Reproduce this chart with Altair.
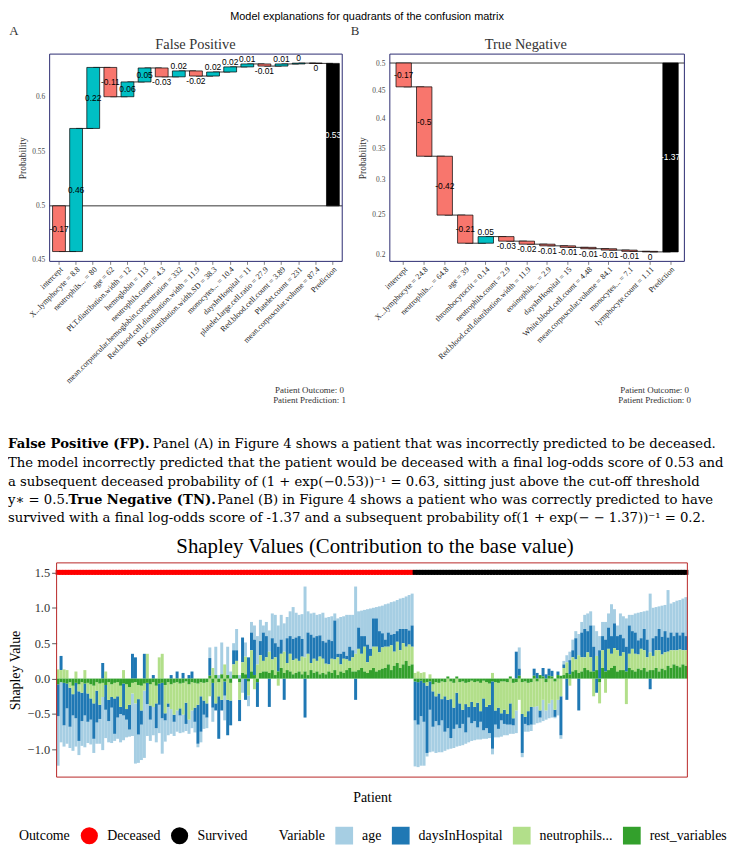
import altair as alt
import numpy as np
import pandas as pd

W, H = 729, 840
SERIF = "Liberation Serif"
SANS = "Liberation Sans"
PSERIF = "DejaVu Serif"
TEAL, SALMON, NAVY, BORDER_RED = "#00BFC4", "#F8766D", "#2b2b70", "#b82525"

# ---------------------------------------------------------------- texts
main_title = "Model explanations for quadrants of the confusion matrix"
panel_tags = ["A", "B"]
panel_titles = ["False Positive", "True Negative"]
fp_caption = ["Patient Outcome:  0", "Patient Prediction:  1"]
tn_caption = ["Patient Outcome:  0", "Patient Prediction:  0"]

# ---------------------------------------------------------------- panel A (False Positive)
fp_features = ["intercept", "X...lymphocyte = 8.8", "neutrophils... = 80", "age = 62",
               "PLT.distribution.width = 12", "hemoglobin = 113", "neutrophils.count = 4.3",
               "mean.corpuscular.hemoglobin.concentration = 332",
               "Red.blood.cell.distribution.width = 11.9", "RBC.distribution.width.SD = 38.3",
               "monocytes... = 10.4", "daysInHospital = 11", "platelet.large.cell.ratio = 27.9",
               "Red.blood.cell.count = 3.89", "Platelet.count = 231",
               "mean.corpuscular.volume = 87.4", "Prediction"]
fp_contrib = [-0.17, 0.458, 0.227, -0.109, 0.055, 0.052, -0.033, 0.022, -0.019, 0.015,
              0.019, 0.011, -0.008, 0.008, 0.003, -0.001]
fp_labels = ["-0.17", "0.46", "0.22", "-0.11", "0.06", "0.05", "-0.03", "0.02", "-0.02",
             "0.02", "0.02", "0.01", "-0.01", "0.01", "0", "0"]
fp_pred, fp_pred_label = 0.53, "0.53"
fp_ticks = [0.45, 0.5, 0.55, 0.6]

# ---------------------------------------------------------------- panel B (True Negative)
tn_features = ["intercept", "X...lymphocyte = 24.8", "neutrophils... = 64.8", "age = 39",
               "thrombocytocrit = 0.14", "neutrophils.count = 2.9",
               "Red.blood.cell.distribution.width = 11.9", "eosinophils... = 2.9",
               "daysInHospital = 15", "White.blood.cell.count = 4.48",
               "mean.corpuscular.volume = 84.1", "monocytes... = 7.1",
               "lymphocyte.count = 1.11", "Prediction"]
tn_contrib = [-0.173, -0.503, -0.427, -0.204, 0.048, -0.033, -0.022, -0.012, -0.011,
              -0.010, -0.010, -0.009, -0.004]
tn_labels = ["-0.17", "-0.5", "-0.42", "-0.21", "0.05", "-0.03", "-0.02", "-0.01", "-0.01",
             "-0.01", "-0.01", "-0.01", "0"]
tn_pred, tn_pred_label = -1.37, "-1.37"
tn_ticks = [0.2, 0.25, 0.3, 0.35, 0.4, 0.45, 0.5]

# ---------------------------------------------------------------- paragraph
para_segments = [
    "False Positive (FP).",
    "Panel (A) in Figure 4 shows a patient that was incorrectly predicted to be deceased.",
    "The model incorrectly predicted that the patient would be deceased with a final "
    "log-odds score of 0.53 and",
    "a subsequent deceased probability of (1 + exp(\u22120.53))\u207b\u00b9 = 0.63, sitting "
    "just above the cut-off threshold",
    "y\u2217 = 0.5.",
    "True Negative (TN).",
    "Panel (B) in Figure 4 shows a patient who was correctly predicted to have",
    "survived with a final log-odds score of -1.37 and a subsequent probability "
    "of(1 + exp(\u2212 \u2212 1.37))\u207b\u00b9 = 0.2.",
]
# (x, y, weight) for each segment
para_layout = [
    (0, 436, "bold"), (146, 436, "normal"),
    (0, 455, "normal"),
    (0, 474, "normal"),
    (0, 493, "normal"), (61, 493, "bold"), (211, 493, "normal"),
    (0, 511, "normal"),
]

# ---------------------------------------------------------------- Shapley values
shap_title = "Shapley Values (Contribution to the base value)"
variables = ["age", "daysInHospital", "neutrophils...", "rest_variables"]
var_colors = ["#a6cee3", "#1f78b4", "#b2df8a", "#33a02c"]
outcomes = ["Deceased", "Survived"]
outcome_colors = ["#ff0000", "#000000"]
shap_ticks = [-1.0, -0.5, 0.0, 0.5, 1.0, 1.5]

dec_rest = [
    -0.08, -0.05, -0.06, -0.07, -0.05, -0.10, -0.06, -0.08, -0.05, -0.07,
    -0.06, -0.08, -0.10, -0.05, -0.07, -0.06, -0.09, -0.05, -0.08, -0.06,
    -0.05, -0.10, -0.07, -0.08, -0.12, -0.06, -0.05, -0.09, -0.10, -0.07,
    -0.06, -0.08, -0.05, -0.10, -0.07, -0.06, -0.09, -0.05, -0.08, -0.06,
    -0.05, -0.07, -0.06, -0.04, -0.08, -0.05, -0.06, -0.07, -0.05, -0.06,
    -0.05, 0.04, -0.06, 0.05, -0.05, 0.06, -0.04, 0.05, -0.06, 0.05,
    0.05, -0.05, 0.08, 0.06, -0.04, 0.10, 0.05, -0.05, 0.08, 0.10,
    0.10, 0.08, 0.12, 0.05, 0.10, 0.15, 0.08, 0.12, 0.10, 0.06,
    0.08, 0.10, 0.06, 0.10, 0.05, 0.12, 0.08, 0.10, 0.06, 0.08,
    0.06, 0.10, 0.08, 0.12, 0.05, 0.10, 0.08, 0.12, 0.15, 0.10,
    0.10, 0.12, 0.15, 0.10, 0.08, 0.12, 0.15, 0.10, 0.12, 0.14,
    0.15, 0.20, 0.12, 0.18, 0.22, 0.15, 0.20, 0.25, 0.18, 0.20]
dec_neut = [
    0.13, 0.12, 0.13, 0.12, -0.08, -0.12, 0.10, -0.10, -0.15, 0.12,
    -0.15, -0.20, -0.25, -0.12, -0.30, -0.20, 0.10, -0.25, -0.18, -0.22,
    -0.20, -0.30, 0.12, -0.35, -0.25, -0.15, -0.30, -0.20, -0.35, -0.10,
    0.35, -0.30, -0.35, -0.25, 0.30, 0.35, -0.40, -0.30, -0.35, -0.45,
    -0.40, -0.35, -0.45, -0.30, -0.50, -0.40, -0.35, -0.30, -0.20, -0.25,
    -0.30, -0.25, 0.15, -0.35, -0.20, -0.30, 0.20, -0.30, -0.25, 0.15,
    0.20, -0.25, 0.15, 0.25, -0.20, 0.30, -0.15, 0.20, 0.25, 0.15,
    0.20, 0.30, 0.15, 0.25, -0.10, 0.20, 0.30, 0.10, 0.25, 0.20,
    0.20, 0.15, 0.25, 0.20, 0.30, 0.10, 0.20, 0.15, 0.25, 0.20,
    0.15, 0.10, 0.20, 0.15, 0.25, 0.10, 0.20, 0.15, 0.10, 0.20,
    0.25, 0.30, 0.20, 0.35, 0.15, 0.20, 0.30, 0.35, 0.25, 0.30,
    0.30, 0.25, 0.35, 0.20, 0.30, 0.25, 0.30, 0.20, 0.30, 0.25]
dec_days = [
    -0.45, 0.20, -0.60, -0.35, -0.55, -0.30, -0.50, -0.70, -0.40, -0.45,
    -0.40, -0.30, -0.50, -0.45, -0.20, 0.22, -0.35, -0.30, -0.15, -0.50,
    -0.30, -0.10, -0.45, -0.15, -0.35, 0.35, 0.30, -0.50, -0.20, 0.35,
    -0.30, -0.20, 0.05, -0.35, -0.30, -0.50, -0.10, -0.05, 0.05, -0.10,
    0.10, -0.10, 0.08, -0.30, 0.05, 0.10, -0.20, -0.55, -0.50, -0.20,
    -0.20, 0.25, -0.35, -0.10, -0.60, -0.15, -0.20, -0.50, -0.35, 0.20,
    0.15, -0.30, 0.35, -0.30, 0.30, 0.25, 0.50, -0.35, 0.20, 0.40,
    0.30, -0.40, 0.30, 0.20, 0.35, 0.20, -0.30, 0.35, 0.25, 0.30,
    0.30, 0.35, 0.25, -0.55, 0.30, 0.40, 0.30, 0.35, 0.30, 0.25,
    0.30, 0.35, 0.25, 0.55, 0.05, 0.15, 0.10, 0.05, 0.20, 0.10,
    -0.30, 0.30, 0.25, 0.15, 0.25, 0.10, 0.40, 0.40, 0.30, 0.20,
    0.10, 0.20, 0.15, 0.25, 0.15, 0.30, 0.20, 0.25, 0.20, 0.30]
dec_age = [
    -0.70, -0.85, -0.30, -0.50, -0.30, -0.50, -0.40, -0.20, -0.35, -0.45,
    -0.30, -0.35, -0.20, -0.30, -0.35, -0.75, -0.40, -0.30, -0.50, -0.10,
    -0.30, -0.40, -0.35, -0.25, -0.10, -0.60, -0.85, -0.40, -0.50, -0.95,
    -0.45, -0.30, -0.40, -0.20, -0.40, -0.50, -0.30, -0.40, -0.35, -0.20,
    -0.30, -0.25, -0.25, -0.10, -0.20, -0.25, -0.15, -0.05, -0.15, -0.20,
    -0.15, 0.15, -0.20, 0.40, 0.05, 0.45, -0.35, 0.40, 0.10, 0.10,
    0.30, 0.05, -0.20, 0.20, -0.15, 0.15, 0.20, 0.40, 0.30, 0.10,
    0.20, 0.30, 0.35, 0.40, 0.30, 0.35, 0.40, 0.30, 0.35, 0.45,
    0.35, 0.30, 0.35, 1.00, 0.30, 0.30, 0.35, 0.30, 0.30, 0.40,
    0.35, 0.32, 0.35, 0.10, 0.50, 0.52, 0.50, 0.58, 0.45, 0.50,
    0.95, 0.23, 0.36, 0.37, 0.50, 0.57, 0.15, 0.16, 0.35, 0.39,
    0.50, 0.41, 0.46, 0.46, 0.44, 0.43, 0.44, 0.46, 0.50, 0.45]

sur_rest = [
    -0.04, -0.05, -0.03, -0.06, -0.05, -0.04, -0.08, -0.05, -0.06, -0.04,
    -0.05, 0.03, -0.04, -0.06, 0.03, -0.05, -0.04, -0.06, -0.05, -0.03,
    -0.05, -0.04, -0.06, -0.03, -0.05, -0.07, -0.04, -0.05, -0.06, -0.04,
    -0.04, -0.05, 0.03, -0.06, -0.05, 0.04, -0.05, -0.04, -0.06, -0.05,
    0.04, -0.04, 0.05, 0.03, -0.05, 0.04, 0.03, -0.04, 0.05, 0.04,
    0.05, 0.08, 0.06, 0.10, 0.12, 0.08, 0.10, 0.15, 0.12, 0.10,
    0.10, 0.12, -0.05, 0.15, 0.10, 0.12, 0.15, 0.18, 0.10, 0.12,
    0.12, 0.10, 0.15, 0.12, 0.10, 0.14, 0.12, 0.15, 0.10, 0.12,
    0.12, 0.15, 0.10, 0.14, 0.12, 0.18, 0.15, 0.20, 0.18, 0.16, 0.20, 0.18]
sur_neut = [
    0.08, 0.10, 0.08, 0.09, -0.05, 0.06, -0.10, -0.20, -0.15, -0.25,
    -0.20, -0.30, -0.25, -0.35, -0.20, -0.30, -0.40, -0.30, -0.35, -0.30,
    -0.35, -0.30, -0.40, -0.25, -0.35, -0.30, 0.08, -0.40, -0.35, -0.45,
    -0.40, -0.45, -0.35, -0.50, -0.40, -0.30, -0.45, -0.50, -0.40, -0.35,
    -0.40, -0.35, -0.45, -0.30, -0.40, -0.35, -0.30, -0.40, -0.30, -0.25,
    0.10, 0.15, -0.10, 0.20, 0.15, 0.25, 0.20, 0.15, 0.25, 0.20,
    -0.25, 0.20, -0.30, 0.25, -0.20, 0.30, 0.20, 0.25, 0.30, 0.20,
    0.25, -0.36, 0.20, 0.30, 0.25, 0.20, 0.30, 0.25, 0.20, 0.25,
    0.20, 0.25, 0.30, 0.20, 0.25, 0.20, 0.25, 0.20, 0.22, 0.25, 0.20, 0.22]
sur_days = [
    -0.55, -0.60, -0.50, -0.55, -0.95, -0.40, -0.50, -0.35, -0.45, -0.30,
    -0.50, -0.40, -0.55, -0.30, -0.45, -0.35, -0.20, -0.40, -0.15, -0.30,
    -0.20, -0.35, -0.15, -0.45, -0.30, -0.40, -0.95, -0.20, -0.30, -0.10,
    -0.20, -0.15, -0.30, -0.10, 0.38, 0.10, -0.55, -0.10, -0.20, -0.25,
    0.10, 0.08, -0.10, 0.12, 0.06, 0.10, 0.08, -0.10, 0.05, -0.55,
    0.05, -0.30, 0.20, 0.10, 0.30, -0.45, 0.35, 0.40, 0.30, 0.45,
    0.35, -0.20, 0.40, 0.20, 0.45, 0.30, 0.25, 0.35, 0.20, 0.30,
    0.20, 0.35, 0.40, 0.25, 0.30, 0.20, 0.15, 0.30, 0.25, -0.15,
    0.25, 0.20, 0.30, 0.25, 0.30, 0.20, 0.25, 0.20, 0.25, 0.20, 0.25, 0.20]
sur_age = [
    -0.65, -0.60, -0.70, -0.62, -0.05, -0.60, -0.35, -0.45, -0.38, -0.45,
    -0.27, -0.30, -0.15, -0.27, -0.31, -0.25, -0.30, -0.16, -0.35, -0.25,
    -0.27, -0.17, -0.25, -0.12, -0.15, -0.07, -0.08, -0.18, -0.12, -0.23,
    -0.16, -0.15, -0.13, -0.12, -0.32, 0.30, -0.06, -0.11, -0.09, -0.09,
    -0.25, -0.24, -0.07, -0.30, -0.13, -0.21, -0.25, -0.02, -0.22, -0.05,
    0.05, 0.10, 0.12, 0.15, 0.10, 0.30, 0.15, 0.20, 0.25, 0.20,
    0.30, 0.35, 0.20, 0.20, 0.25, 0.20, 0.45, 0.20, 0.15, 0.30,
    0.31, 0.40, 0.15, 0.23, 0.27, 0.39, 0.37, 0.25, 0.41, 0.83,
    0.43, 0.41, 0.32, 0.44, 0.37, 0.67, 0.41, 0.48, 0.45, 0.50, 0.48, 0.55]


# ================================================================ helpers
def text_mark(txt, x, y, size, font=SERIF, weight="normal", align="center",
              color="black", baseline="middle"):
    return alt.Chart(pd.DataFrame({"t": [txt]})).mark_text(
        font=font, fontSize=size, fontWeight=weight, align=align, baseline=baseline,
        color=color
    ).encode(x=alt.value(x), y=alt.value(y), text="t:N")


def logit(p):
    return float(np.log(p / (1 - p)))


def waterfall(features, contrib, labels, pred, pred_label, thr):
    rows, cum = [], 0.0
    for f, c, l in zip(features[:-1], contrib, labels):
        rows.append({"feature": f, "start": cum, "end": cum + c, "val": c, "label": l,
                     "kind": "feat"})
        cum += c
    rows.append({"feature": features[-1], "start": 0.0, "end": pred, "val": pred,
                 "label": pred_label, "kind": "pred"})
    df = pd.DataFrame(rows)
    df["lo"] = df[["start", "end"]].min(axis=1)
    df["hi"] = df[["start", "end"]].max(axis=1)
    df["mid"] = (df["start"] + df["end"]) / 2
    df["pos"] = np.where(df["val"].abs() >= thr, "mid",
                         np.where(df["val"] >= 0, "above", "below"))
    conn = pd.DataFrame({"f1": features[:-1], "f2": features[1:],
                         "level": df["end"].iloc[:-1].values})
    return df, conn


def panel(df, conn, features, xr, yd, yr, ticks, po, tpad):
    xs = alt.Scale(domain=features, range=xr, paddingInner=0.25, paddingOuter=po)
    ys = alt.Scale(domain=yd, range=yr, nice=False, zero=False)
    xaxis = alt.Axis(orient="bottom", offset=-(H - yr[0]), labelAngle=315,
                     labelAlign="right", labelBaseline="top", labelFont=SERIF,
                     labelFontSize=8, labelColor="#222222", labelLimit=0,
                     labelOverlap=False, labelPadding=1, ticks=True, tickSize=3,
                     tickColor="#333333", tickWidth=0.6, domain=False, grid=False,
                     title=None)
    yaxis = alt.Axis(orient="left", offset=-xr[0], values=[logit(p) for p in ticks],
                     labelExpr="format(1/(1+exp(-datum.value)), '.2~f')",
                     labelFont=SERIF, labelFontSize=7.5, labelColor="#4d4d4d",
                     labelPadding=5, ticks=False, tickSize=0, domain=False, grid=False,
                     title="Probability", titleFont=SERIF, titleFontSize=9.5,
                     titleFontWeight="normal", titleColor="#333333", titlePadding=tpad)
    X = alt.X("feature:N", scale=xs, sort=features, axis=xaxis)

    def Y(field):
        return alt.Y(field, scale=ys, axis=yaxis)

    links = alt.Chart(conn).mark_rule(color="black", strokeWidth=0.8).encode(
        x=alt.X("f1:N", scale=xs, sort=features, axis=xaxis), x2="f2:N",
        y=Y("level:Q"))
    zero = alt.Chart(pd.DataFrame({"z": [0.0]})).mark_rule(
        color="black", strokeWidth=0.8).encode(
        y=Y("z:Q"), x=alt.value(xr[0]), x2=alt.value(xr[1]))
    fill = (alt.when(alt.datum.kind == "pred").then(alt.value("black"))
            .when(alt.datum.val > 0).then(alt.value(TEAL))
            .otherwise(alt.value(SALMON)))
    bars = alt.Chart(df).mark_bar(stroke="black", strokeWidth=0.7).encode(
        x=X, y=Y("start:Q"), y2="end:Q", fill=fill)
    lab_col = (alt.when(alt.datum.kind == "pred").then(alt.value("white"))
               .otherwise(alt.value("black")))
    t_mid = alt.Chart(df).transform_filter(alt.datum.pos == "mid").mark_text(
        font=SANS, fontSize=8.5).encode(x=X, y=Y("mid:Q"), text="label:N", color=lab_col)
    t_up = alt.Chart(df).transform_filter(alt.datum.pos == "above").mark_text(
        font=SANS, fontSize=8.5, dy=-5, color="black").encode(
        x=X, y=Y("hi:Q"), text="label:N")
    t_dn = alt.Chart(df).transform_filter(alt.datum.pos == "below").mark_text(
        font=SANS, fontSize=8.5, dy=5, color="black").encode(
        x=X, y=Y("lo:Q"), text="label:N")
    frame = alt.Chart(pd.DataFrame({"a": [0]})).mark_rect(
        fill="transparent", stroke=NAVY, strokeWidth=1).encode(
        x=alt.value(xr[0]), x2=alt.value(xr[1]), y=alt.value(yr[1]), y2=alt.value(yr[0]))
    return alt.layer(links, zero, bars, t_mid, t_up, t_dn, frame)


# ================================================================ panels
dfA, connA = waterfall(fp_features, fp_contrib, fp_labels, fp_pred, fp_pred_label, 0.04)
dfB, connB = waterfall(tn_features, tn_contrib, tn_labels, tn_pred, tn_pred_label, 0.07)
panelA = panel(dfA, connA, fp_features, [42, 337], [-0.2066, 0.5646], [252, 43],
               fp_ticks, 0.17, 4)
panelB = panel(dfB, connB, tn_features, [385, 682], [-1.4388, 0.0647], [252, 43],
               tn_ticks, 0.3, 4)

# ================================================================ shapley chart
n_dec, n_sur = len(dec_age), len(sur_age)
rows = []
series = {"age": dec_age + sur_age, "daysInHospital": dec_days + sur_days,
          "neutrophils...": dec_neut + sur_neut, "rest_variables": dec_rest + sur_rest}
for var in variables:
    for pid, v in enumerate(series[var]):
        rows.append({"pid": pid, "variable": var, "value": v,
                     "ord": 3 - variables.index(var)})
long = pd.DataFrame(rows)
out_df = pd.DataFrame({"pid": list(range(n_dec + n_sur)),
                       "outcome": [outcomes[0]] * n_dec + [outcomes[1]] * n_sur})

XR_B, YR_B = [49, 685], [772, 556]
xs_b = alt.Scale(domain=list(range(n_dec + n_sur)), range=XR_B, paddingInner=0,
                 paddingOuter=0)
ys_b = alt.Scale(domain=[-1.391, 1.634], range=YR_B, nice=False, zero=False)
x_axis_b = alt.Axis(orient="bottom", offset=-(H - YR_B[0]), labels=False, ticks=False,
                    domain=False, grid=False, title="Patient", titleFont=SERIF,
                    titleFontSize=14, titleFontWeight="normal", titleColor="black",
                    titlePadding=14)

leg_common = dict(orient="none", direction="horizontal", titleOrient="left",
                  titleFont=SERIF, titleFontSize=14, titleFontWeight="normal",
                  titleColor="black", titleBaseline="middle", labelFont=SERIF,
                  labelFontSize=14, labelColor="black", symbolStrokeWidth=0,
                  symbolOpacity=1, labelOffset=9, titlePadding=10)

shap_bars = alt.Chart(long).mark_bar().encode(
    x=alt.X("pid:O", scale=xs_b, axis=x_axis_b),
    y=alt.Y("value:Q", stack="zero", scale=ys_b, axis=alt.Axis(
        orient="left", offset=-XR_B[0], values=shap_ticks, format=".1f",
        labelFont=SERIF, labelFontSize=12.5, labelColor="#333333", labelPadding=2,
        ticks=True, tickSize=5, tickColor="#333333", tickWidth=0.8, domain=False,
        grid=False, title="Shapley Value", titleFont=SERIF, titleFontSize=14,
        titleFontWeight="normal", titleColor="black", titlePadding=5)),
    color=alt.Color("variable:N", scale=alt.Scale(domain=variables, range=var_colors),
                    legend=alt.Legend(title="Variable", legendX=273, legendY=822,
                                      symbolType="square", symbolSize=320,
                                      columnPadding=10, **leg_common)),
    order=alt.Order("ord:Q", sort="ascending"),
)
shap_pts = alt.Chart(out_df).mark_square(size=25, opacity=1).encode(
    x=alt.X("pid:O", scale=xs_b, axis=x_axis_b),
    y=alt.datum(1.5),
    fill=alt.Fill("outcome:N", scale=alt.Scale(domain=outcomes, range=outcome_colors),
                  legend=alt.Legend(title="Outcome", legendX=11, legendY=822,
                                    symbolType="circle", symbolSize=300,
                                    columnPadding=10, **leg_common)),
)
shap_frame = alt.Chart(pd.DataFrame({"a": [0]})).mark_rect(
    fill="transparent", stroke=BORDER_RED, strokeWidth=1).encode(
    x=alt.value(XR_B[0]), x2=alt.value(XR_B[1]), y=alt.value(YR_B[1]), y2=alt.value(YR_B[0]))
shap = alt.layer(shap_bars, shap_pts, shap_frame)

# ================================================================ free texts
texts = [
    text_mark(main_title, 362, 6, 11, font=SANS),
    text_mark(panel_tags[0], 6, 20, 13, color="#333333"),
    text_mark(panel_tags[1], 350, 20, 13, color="#333333"),
    text_mark(panel_titles[0], 189, 34, 14.5, color="#333333"),
    text_mark(panel_titles[1], 522, 34, 14.5, color="#333333"),
    text_mark(fp_caption[0], 304, 382, 9, color="#333333"),
    text_mark(fp_caption[1], 304, 392, 9, color="#333333"),
    text_mark(tn_caption[0], 652, 382, 9, color="#333333"),
    text_mark(tn_caption[1], 652, 392, 9, color="#333333"),
    text_mark(shap_title, 370, 540, 21),
]
for seg, (x, y, weight) in zip(para_segments, para_layout):
    texts.append(text_mark(seg, x, y, 13.3, font=PSERIF, weight=weight, align="left"))

chart = alt.layer(panelA, panelB, shap, *texts).resolve_scale(
    x="independent", y="independent"
).properties(
    width=W, height=H, autosize=alt.AutoSizeParams(type="none"), padding=0
).configure_view(stroke=None)

chart.save("out.html", embed_options={"renderer": "svg", "actions": False})
